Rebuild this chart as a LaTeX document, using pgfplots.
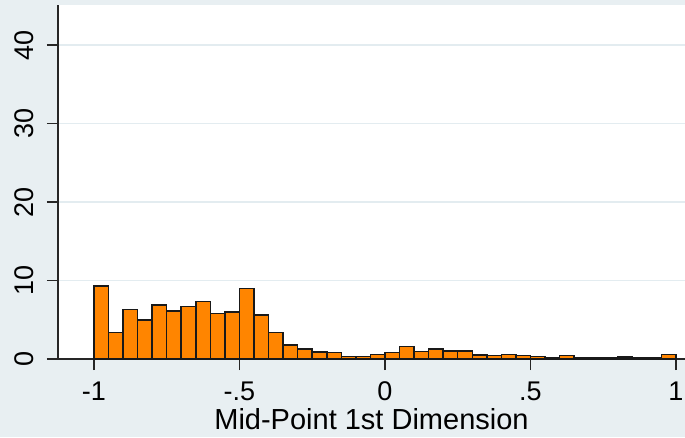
\documentclass[border=0pt]{standalone}
\usepackage{pgfplots}
\pgfplotsset{compat=1.18}
\usepackage{fontspec}
\setmainfont{Liberation Sans}
\definecolor{bgc}{HTML}{E8EFF2}
\definecolor{gridc}{HTML}{E3ECF0}
\definecolor{barc}{HTML}{FF8500}
\pgfplotstableread{
x y
-1.00 9.3
-0.95 3.4
-0.90 6.3
-0.85 5.0
-0.80 6.9
-0.75 6.1
-0.70 6.7
-0.65 7.3
-0.60 5.8
-0.55 6.0
-0.50 9.0
-0.45 5.6
-0.40 3.4
-0.35 1.8
-0.30 1.3
-0.25 0.9
-0.20 0.8
-0.15 0.35
-0.10 0.35
-0.05 0.6
0.00 0.85
0.05 1.6
0.10 0.95
0.15 1.3
0.20 1.0
0.25 1.0
0.30 0.5
0.35 0.45
0.40 0.6
0.45 0.45
0.50 0.3
0.55 0.2
0.60 0.45
0.65 0.15
0.70 0.1
0.75 0.1
0.80 0.25
0.85 0.2
0.90 0.2
0.95 0.6
1.00 0
}\histdata
\begin{document}
\begin{tikzpicture}
\fill[bgc] (-58pt,-78pt) rectangle (627pt,359pt);
\useasboundingbox (-58pt,-78pt) rectangle (627pt,359pt);
\begin{axis}[
  anchor=south west, at={(0pt,0pt)},
  scale only axis,
  width=627pt, height=354pt,
  xmin=-1.1235, xmax=1.031,
  ymin=0, ymax=45.1,
  axis background/.style={fill=white},
  axis x line*=bottom, axis y line*=left,
  axis line style={black!85, line width=1.2pt},
  tick align=outside,
  major tick length=11pt,
  tick style={black!85, line width=1.2pt},
  xtick={-1,-0.5,0,0.5,1},
  xticklabels={-1,-.5,0,.5,1},
  ytick={0,10,20,30,40},
  yticklabels={0,10,20,30,40},
  yticklabel shift=10pt,
  xticklabel shift=8pt,
  yticklabel style={rotate=90, anchor=south, font=\fontsize{27}{30}\selectfont},
  xticklabel style={font=\fontsize{27}{30}\selectfont},
  ymajorgrids,
  major grid style={gridc, line width=1.2pt},
  xlabel={Mid-Point 1st Dimension},
  xlabel style={font=\fontsize{29}{32}\selectfont, yshift=-1pt},
  clip=false,
]
\addplot[ybar interval, fill=barc, draw=black!90, line width=1.5pt] table[x=x,y=y] {\histdata};
\end{axis}
\end{tikzpicture}
\end{document}
